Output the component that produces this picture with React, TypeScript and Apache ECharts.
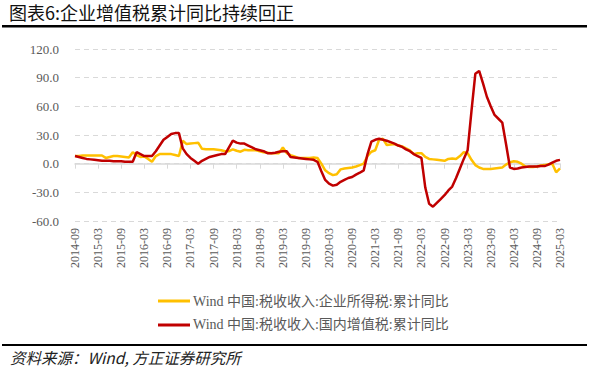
import React, { useEffect, useRef } from "react";
import * as echarts from "echarts";

const titleText = "图表6:企业增值税累计同比持续回正";
const sourceText = "资料来源：Wind, 方正证券研究所";
const seriesNames = [
  "Wind 中国:税收收入:企业所得税:累计同比",
  "Wind 中国:税收收入:国内增值税:累计同比",
];

function buildMonths(): string[] {
  const out: string[] = [];
  let y = 2014;
  let m = 9;
  while (y < 2025 || (y === 2025 && m <= 3)) {
    out.push(`${y}-${m < 10 ? "0" + m : m}`);
    m++;
    if (m > 12) {
      m = 1;
      y++;
    }
  }
  return out;
}
const months = buildMonths();

// 企业所得税 累计同比 (%)
const citValues = [
  8, 8, 8.5, 8.5, 8.5, 8.5, 8.5, 8.5, 6, 7, 8, 8, 7.5, 7, 6.5, 12, 9, 7, 7.5, 5,
  2, 8, 10, 10, 10, 10, 9, 8, 24, 20.5, 21, 21.5, 22, 15.5, 15, 15, 15, 14.5, 14, 13,
  13, 15, 13.5, 12.5, 14.5, 14, 14, 14, 13, 12, 11.5, 11, 11, 11, 17, 11, 9, 7.5, 6, 6,
  6, 6, 6.5, 6, 0, -7, -10, -12, -11, -6, -5, -4.5, -4, -3, -1.5, 0, 8, 12.5, 14, 25,
  26, 19.5, 20, 20.5, 19, 18, 16, 14, 10, 11, 11, 7, 5, 4.5, 4, 3.5, 3, 5, 5.5, 5,
  8, 12, 11, 4, -1.5, -4, -5.5, -5.5, -5.5, -5, -4.5, -4, -1, 1.5, 2.5, 2, 0, -3, -3.5, -3.5,
  -3, -2, -1.5, -0.5, 0, -9, -5,
];

// 国内增值税 累计同比 (%)
const vatValues = [
  8, 7, 6, 5, 4.5, 4, 3.5, 3, 3, 3, 2.5, 2.5, 2.5, 2, 2, 2, 12, 10, 8, 8,
  8, 13, 19, 25, 28, 31, 32, 32, 16, 10, 6, 3, 0, 3, 5, 7, 8, 9, 10, 10,
  17, 24, 22, 21, 21, 19, 17, 15, 14, 13, 11, 11, 11.5, 12.5, 13, 13, 7, 6.5, 6, 5.5,
  5, 4.5, 4, 2, -8, -17, -21, -23, -22, -19, -17, -15, -14, -11.5, -9.5, -7, 10, 23, 25, 26,
  25, 24, 22.5, 21, 19, 17.5, 15, 13, 10, 8, 6, -25, -42, -45, -41, -37, -33, -28, -24, -15,
  -5, 5, 14, 55, 94, 97, 84, 70, 60, 51, 47, 43, 20, -4, -5.5, -5, -4, -3.5, -3, -3,
  -3, -2.5, -2.5, -1, 1, 3, 4,
];

const yMin = -60;
const yMax = 120;
const yInterval = 30;

const serif = "'Times New Roman', 'Liberation Serif', 'DejaVu Serif', 'Noto Sans CJK SC', serif";
const gray = "#595959";

export default function App() {
  const ref = useRef<HTMLDivElement>(null);
  useEffect(() => {
    if (!ref.current) return;
    const chart = echarts.init(ref.current, undefined, { renderer: "svg" });
    chart.setOption({
      animation: false,
      backgroundColor: "#ffffff",
      grid: { left: 75, right: 29, top: 49, bottom: 151, containLabel: false },
      legend: {
        orient: "vertical",
        left: 153,
        top: 289,
        itemWidth: 32,
        itemHeight: 3,
        itemGap: 10,
        icon: "rect",
        textStyle: { color: gray, fontSize: 14, fontFamily: serif, padding: [0, 0, 0, -2] },
        data: seriesNames,
      },
      xAxis: [
        {
          type: "category",
          data: months,
          boundaryGap: false,
          axisLine: { show: false, onZero: false },
          axisTick: { show: false },
          axisLabel: {
            interval: 5,
            rotate: 90,
            color: gray,
            fontSize: 12,
            fontFamily: serif,
            margin: 7,
          },
          splitLine: { show: false },
        },
        {
          type: "category",
          data: months,
          boundaryGap: false,
          position: "bottom",
          axisLine: { show: true, onZero: true, lineStyle: { color: "#d9d9d9", width: 1.5 } },
          axisTick: { show: true, interval: 5, length: 5, lineStyle: { color: "#d9d9d9" } },
          axisLabel: { show: false },
          splitLine: { show: false },
        },
      ],
      yAxis: {
        type: "value",
        min: yMin,
        max: yMax,
        interval: yInterval,
        axisLine: { show: false },
        axisTick: { show: false },
        axisLabel: {
          color: gray,
          fontSize: 13,
          fontFamily: serif,
          margin: 16,
          formatter: (v: number) => v.toFixed(1),
        },
        splitLine: { show: true, lineStyle: { color: "#d9d9d9", type: [5, 4], width: 1 } },
      },
      series: [
        {
          name: seriesNames[0],
          type: "line",
          data: citValues,
          symbol: "none",
          itemStyle: { color: "#FFC000" },
          lineStyle: { color: "#FFC000", width: 2.5 },
          z: 2,
        },
        {
          name: seriesNames[1],
          type: "line",
          data: vatValues,
          symbol: "none",
          itemStyle: { color: "#C00000" },
          lineStyle: { color: "#C00000", width: 2.5 },
          z: 3,
        },
      ],
      graphic: [
        {
          type: "text",
          left: 9,
          top: 3,
          style: {
            text: titleText,
            fill: "#111111",
            font: "18px 'Noto Sans CJK SC', sans-serif",
          },
        },
        {
          type: "rect",
          shape: { x: 2, y: 25, width: 585, height: 2.5 },
          style: { fill: "#000000" },
        },
        {
          type: "rect",
          shape: { x: 2, y: 344, width: 585, height: 2 },
          style: { fill: "#000000" },
        },
        {
          type: "text",
          left: 10,
          top: 349,
          style: {
            text: sourceText,
            fill: "#222222",
            font: "italic 15.5px 'Noto Sans CJK SC', sans-serif",
          },
        },
      ],
    });
    return () => chart.dispose();
  }, []);
  return <div ref={ref} style={{ width: 589, height: 372, position: "absolute", left: 0, top: 0 }} />;
}
